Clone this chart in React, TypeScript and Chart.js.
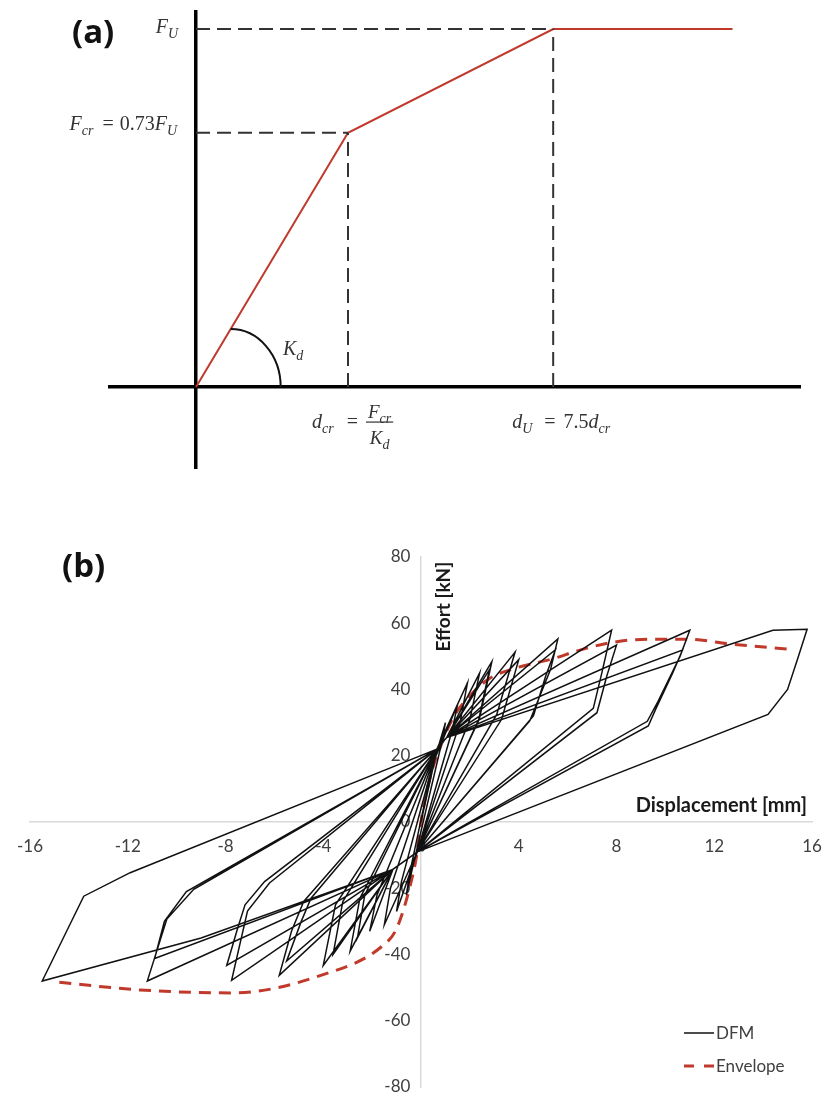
import React, { useEffect, useRef } from "react";
import { Chart, registerables } from "chart.js";

Chart.register(...registerables);

const SERIF = '"Liberation Serif", "DejaVu Serif", serif';
const SANS = 'Lato, "Open Sans", sans-serif';
const TAG = '"Open Sans", Lato, sans-serif';

// ---------------- Panel (a): schematic trilinear law ----------------
// points: origin, (d_cr, F_cr), (d_U, F_U), end of plateau  (schematic spacing as drawn)
const schemDisp = [0, 1, 2.35, 3.53];
const schemForce = [0, 0.71, 1, 1];
const schemXRange = [-0.566, 3.974];
const schemYRange = [-0.226, 1.0475];

// ---------------- Panel (b): hysteresis loops ----------------
const dispTicks = [-16, -12, -8, -4, 0, 4, 8, 12, 16];
const effortTicks = [-80, -60, -40, -20, 0, 20, 40, 60, 80];

// DFM path (displacement mm, effort kN), one continuous record, cycle by cycle
const dfmDisplacement = [
  0,
  0.6, 1.0, 0.85, -0.1, -0.6, -0.45, 0.5,
  1.5, 1.25, -0.15, -1.0, -0.8, 0.65,
  1.9, 1.6, -0.15, -1.5, -1.25, 0.65,
  1.05, 2.4, 2.0, -0.15, -1.15, -2.1, -1.8, 0.65,
  1.05, 2.9, 2.4, -0.15, -1.15, -2.9, -2.5, 0.65,
  1.05, 2.8, 2.35, -0.15, -1.15, -2.6, -2.3, 0.65,
  1.05, 3.85, 3.1, -0.15, -1.15, -4.0, -3.5, 0.65,
  1.05, 4.0, 3.3, -0.15, -1.15, -3.6, -3.2, 0.65,
  1.05, 5.6, 5.3, 4.45, -0.15, -1.15, -5.8, -5.3, -4.8, 0.65,
  1.05, 5.5, 5.1, 4.6, -0.15, -1.15, -5.5, -4.9, -4.5, 0.65,
  1.05, 7.8, 7.4, 7.05, -0.15, -1.15, -7.75, -7.1, -6.2, 0.65,
  1.05, 8.0, 7.6, 7.2, -0.15, -1.15, -7.95, -7.5, -7.2, -6.4, 0.65,
  1.05, 11.0, 10.6, 9.7, 9.26, -0.15, -1.15, -11.2, -10.4, -9.3, 0.65,
  1.05, 10.7, 10.3, 9.6, 9.3, -0.15, -1.15, -10.9, -10.5, -9.6, 0.65,
  1.05, 14.4, 15.8, 15.4, 15.0, 14.2, -0.15, -1.15, -9.0, -15.5, -13.8, -11.9, 0.65,
];
const dfmEffort = [
  0,
  20, 30, 24, -6, -22, -15, 18,
  35.5, 27, -9, -27, -18, 22,
  42, 30, -9, -31, -20, 22,
  25.5, 45, 31, -9, -14.3, -33, -22, 22,
  25.5, 48.4, 31.5, -9, -14.3, -39, -23, 22,
  25.5, 46, 30.5, -9, -14.3, -35, -22, 22,
  25.5, 51.3, 32.5, -9, -14.3, -43.3, -25, 22,
  25.5, 49, 31, -9, -14.3, -40, -24, 22,
  25.5, 55.3, 46, 30.5, -9, -14.3, -46.3, -33, -24, 22,
  25.5, 52, 44, 32, -9, -14.3, -42, -30, -23, 22,
  25.5, 57.9, 45, 34.3, -9, -14.3, -47.8, -26.9, -18.4, 22,
  25.5, 53.4, 44, 33, -9, -14.3, -43.3, -32, -25, -18, 22,
  25.5, 57.9, 50, 36.4, 30.4, -9, -14.3, -48, -29.3, -20.3, 22,
  25.5, 51.9, 45, 34, 29, -9, -14.3, -41.2, -30, -21, 22,
  25.5, 57.9, 58.2, 49, 40, 32.5, -9, -14.3, -35, -48, -22.4, -15.3, 22,
];

// Envelope curve
const envDisplacement = [-14.8, -11.5, -7.7, -4.1, -1.56, -1.0, -0.45, -0.16, 0, 0.37, 0.78, 1.3, 1.9, 2.8, 3.8, 5.4, 6.5, 7.9, 9.3, 10.9, 12.7, 15.0];
const envEffort = [-48.4, -50.7, -51.6, -46.3, -37.3, -32.2, -19.4, -9.3, 0, 13.4, 22.4, 31.3, 37.3, 43.3, 46.3, 49.3, 51.9, 54.3, 55.2, 55.2, 53.7, 52.2];

// ---------------- helpers ----------------
type Run = { t: string; i?: boolean; s?: boolean; g?: number };
const runFont = (r: Run, size: number) =>
  `${r.i ? "italic " : ""}${r.s ? Math.round(size * 0.72) : size}px ${SERIF}`;
function runsWidth(ctx: CanvasRenderingContext2D, runs: Run[], size: number) {
  let w = 0;
  for (const r of runs) {
    ctx.font = runFont(r, size);
    w += (r.g || 0) + ctx.measureText(r.t).width;
  }
  return w;
}
function drawRuns(ctx: CanvasRenderingContext2D, runs: Run[], x: number, y: number, size: number) {
  let cx = x;
  ctx.textAlign = "left";
  ctx.textBaseline = "alphabetic";
  for (const r of runs) {
    cx += r.g || 0;
    ctx.font = runFont(r, size);
    ctx.fillText(r.t, cx, r.s ? y + size * 0.24 : y);
    cx += ctx.measureText(r.t).width;
  }
  return cx;
}

const fitX = (s: any) => { s.height = 0; s.paddingLeft = 0; s.paddingRight = 0; };
const fitY = (s: any) => { s.width = 0; s.paddingTop = 0; s.paddingBottom = 0; };

function PanelA() {
  const ref = useRef<HTMLCanvasElement>(null);
  useEffect(() => {
    const canvas = ref.current!;
    const dcr = schemDisp[1];
    const fcr = schemForce[1];
    const du = schemDisp[2];
    const fu = schemForce[2];
    const dashStyle = { borderColor: "#333333", borderWidth: 2, borderDash: [14, 7], pointRadius: 0, showLine: true, fill: false };

    const labels = {
      id: "schemLabels",
      afterDraw(chart: any) {
        const ctx: CanvasRenderingContext2D = chart.ctx;
        const xs = chart.scales.x;
        const ys = chart.scales.y;
        const ox = xs.getPixelForValue(0);
        const oy = ys.getPixelForValue(0);
        const pxDcr = xs.getPixelForValue(dcr);
        const pxDu = xs.getPixelForValue(du);
        const pyFcr = ys.getPixelForValue(fcr);
        const pyFu = ys.getPixelForValue(fu);
        ctx.save();
        // panel tag
        ctx.fillStyle = "#111111";
        ctx.font = `bold 33px ${TAG}`;
        ctx.textAlign = "left";
        ctx.textBaseline = "middle";
        ctx.fillText("(a)", 72, 34);

        ctx.fillStyle = "#333333";
        const size = 20;
        const fuRuns: Run[] = [{ t: "F", i: true }, { t: "U", i: true, s: true }];
        drawRuns(ctx, fuRuns, ox - 18 - runsWidth(ctx, fuRuns, size), pyFu + 4, size);
        const fcrRuns: Run[] = [
          { t: "F", i: true }, { t: "cr", i: true, s: true },
          { t: "=", g: 9 }, { t: "0.73", g: 6 },
          { t: "F", i: true }, { t: "U", i: true, s: true },
        ];
        drawRuns(ctx, fcrRuns, ox - 19 - runsWidth(ctx, fcrRuns, size), pyFcr - 3, size);

        // angle arc K_d
        const dx = pxDcr - ox;
        const dy = oy - pyFcr;
        const ry = 58;
        const cx = ox + (ry * dx) / dy;
        ctx.strokeStyle = "#111111";
        ctx.lineWidth = 2;
        ctx.beginPath();
        ctx.ellipse(cx, oy, 50, ry, 0, -Math.PI / 2, 0);
        ctx.stroke();
        drawRuns(ctx, [{ t: "K", i: true }, { t: "d", i: true, s: true }], ox + 87, oy - 32, size);

        // d_cr = F_cr / K_d
        const base = oy + 41;
        const endX = drawRuns(ctx, [{ t: "d", i: true }, { t: "cr", i: true, s: true }, { t: "=", g: 13 }], pxDcr - 36, base, size);
        const num: Run[] = [{ t: "F", i: true }, { t: "cr", i: true, s: true }];
        const den: Run[] = [{ t: "K", i: true }, { t: "d", i: true, s: true }];
        const fs = 19;
        const nw = runsWidth(ctx, num, fs);
        const dw = runsWidth(ctx, den, fs);
        const fw = Math.max(nw, dw) + 4;
        const fl = endX + 8;
        drawRuns(ctx, num, fl + (fw - nw) / 2, base - 10, fs);
        drawRuns(ctx, den, fl + (fw - dw) / 2, base + 16, fs);
        ctx.lineWidth = 1.2;
        ctx.strokeStyle = "#333333";
        ctx.beginPath();
        ctx.moveTo(fl, base - 6);
        ctx.lineTo(fl + fw, base - 6);
        ctx.stroke();

        // d_U = 7.5 d_cr
        drawRuns(
          ctx,
          [{ t: "d", i: true }, { t: "U", i: true, s: true }, { t: "=", g: 12 }, { t: "7.5", g: 8 }, { t: "d", i: true }, { t: "cr", i: true, s: true }],
          pxDu - 41,
          base,
          size
        );
        ctx.restore();
      },
    };

    const chart = new Chart(canvas, {
      type: "scatter",
      data: {
        datasets: [
          { ...dashStyle, data: [{ x: 0, y: fu }, { x: du, y: fu }] },
          { ...dashStyle, data: [{ x: 0, y: fcr }, { x: dcr, y: fcr }] },
          { ...dashStyle, data: [{ x: dcr, y: 0 }, { x: dcr, y: fcr }] },
          { ...dashStyle, data: [{ x: du, y: 0 }, { x: du, y: fu }] },
          {
            data: schemDisp.map((x, i) => ({ x, y: schemForce[i] })),
            borderColor: "#c0392b",
            borderWidth: 2,
            pointRadius: 0,
            showLine: true,
            fill: false,
          },
        ],
      } as any,
      options: {
        animation: false,
        responsive: false,
        events: [],
        layout: { padding: { left: 110, right: 24, top: 12, bottom: 22 } },
        plugins: { legend: { display: false }, tooltip: { enabled: false } },
        scales: {
          x: {
            type: "linear",
            min: schemXRange[0],
            max: schemXRange[1],
            position: { y: 0 } as any,
            afterFit: fitX,
            grid: { display: false, drawTicks: false },
            border: { display: true, color: "#000000", width: 3.5 },
            ticks: { display: false },
          },
          y: {
            type: "linear",
            min: schemYRange[0],
            max: schemYRange[1],
            position: { x: 0 } as any,
            afterFit: fitY,
            grid: { display: false, drawTicks: false },
            border: { display: true, color: "#000000", width: 3.5 },
            ticks: { display: false },
          },
        },
      } as any,
      plugins: [labels],
    });
    return () => chart.destroy();
  }, []);
  return <canvas ref={ref} width={824} height={490} style={{ position: "absolute", left: 0, top: 0 }} />;
}

function PanelB() {
  const ref = useRef<HTMLCanvasElement>(null);
  useEffect(() => {
    const canvas = ref.current!;
    const legendDash: Record<string, number[]> = { Envelope: [10, 10] };

    const extras = {
      id: "extras",
      afterDraw(chart: any) {
        const ctx: CanvasRenderingContext2D = chart.ctx;
        const xs = chart.scales.x;
        const ys = chart.scales.y;
        ctx.save();
        ctx.fillStyle = "#111111";
        ctx.font = `bold 33px ${TAG}`;
        ctx.textAlign = "left";
        ctx.textBaseline = "middle";
        ctx.fillText("(b)", 62, 78);

        // axis titles
        ctx.fillStyle = "#1a1a1a";
        ctx.font = `bold 19px ${SANS}`;
        ctx.save();
        ctx.translate(xs.getPixelForValue(0) + 23, ys.getPixelForValue(65));
        ctx.rotate(-Math.PI / 2);
        ctx.textAlign = "center";
        ctx.textBaseline = "middle";
        ctx.fillText("Effort [kN]", 0, 0);
        ctx.restore();
        ctx.font = `bold 20px ${SANS}`;
        ctx.textAlign = "right";
        ctx.textBaseline = "middle";
        ctx.fillText("Displacement [mm]", chart.chartArea.right - 5, ys.getPixelForValue(0) - 16);

        // legend
        const ds = chart.data.datasets;
        ctx.font = `17px ${SANS}`;
        ds.forEach((d: any, k: number) => {
          const y = 543 + k * 33;
          ctx.strokeStyle = d.borderColor;
          ctx.lineWidth = d.borderWidth;
          ctx.setLineDash(legendDash[d.label] || []);
          ctx.beginPath();
          ctx.moveTo(684, y);
          ctx.lineTo(714, y);
          ctx.stroke();
          ctx.setLineDash([]);
          ctx.fillStyle = "#404040";
          ctx.textAlign = "left";
          ctx.fillText(d.label, 716, y + 1);
        });
        ctx.restore();
      },
    };

    const chart = new Chart(canvas, {
      type: "scatter",
      data: {
        datasets: [
          {
            label: "DFM",
            data: dfmDisplacement.map((x, i) => ({ x, y: dfmEffort[i] })),
            borderColor: "#111111",
            borderWidth: 1.5,
            pointRadius: 0,
            showLine: true,
            fill: false,
            tension: 0,
          },
          {
            label: "Envelope",
            data: envDisplacement.map((x, i) => ({ x, y: envEffort[i] })),
            borderColor: "#c0392b",
            borderWidth: 3,
            borderDash: [12, 8],
            pointRadius: 0,
            showLine: true,
            fill: false,
            cubicInterpolationMode: "monotone",
          },
        ],
      } as any,
      options: {
        animation: false,
        responsive: false,
        events: [],
        layout: { padding: { left: 30, right: 12, top: 67, bottom: 12 } },
        plugins: { legend: { display: false }, tooltip: { enabled: false } },
        scales: {
          x: {
            type: "linear",
            min: dispTicks[0],
            max: dispTicks[dispTicks.length - 1],
            position: { y: 0 } as any,
            afterFit: fitX,
            afterBuildTicks: (s: any) => { s.ticks = dispTicks.map((v) => ({ value: v })); },
            grid: { display: false, drawTicks: false },
            border: { display: true, color: "#d9d9d9", width: 1.5 },
            ticks: { color: "#404040", font: { family: SANS, size: 17 }, padding: 14, maxRotation: 0, autoSkip: false },
          },
          y: {
            type: "linear",
            min: effortTicks[0],
            max: effortTicks[effortTicks.length - 1],
            position: { x: 0 } as any,
            afterFit: fitY,
            afterBuildTicks: (s: any) => { s.ticks = effortTicks.map((v) => ({ value: v })); },
            grid: { display: false, drawTicks: false },
            border: { display: true, color: "#d9d9d9", width: 1.5 },
            ticks: {
              color: "#404040",
              font: { family: SANS, size: 17 },
              autoSkip: false,
              callback: (v: any) => `${v}\u2002\u2009`,
            },
          },
        },
      } as any,
      plugins: [extras],
    });
    return () => chart.destroy();
  }, []);
  return <canvas ref={ref} width={824} height={609} style={{ position: "absolute", left: 0, top: 490 }} />;
}

export default function App() {
  return (
    <div style={{ position: "absolute", left: 0, top: 0, width: 824, height: 1099, background: "#ffffff" }}>
      <PanelA />
      <PanelB />
    </div>
  );
}
